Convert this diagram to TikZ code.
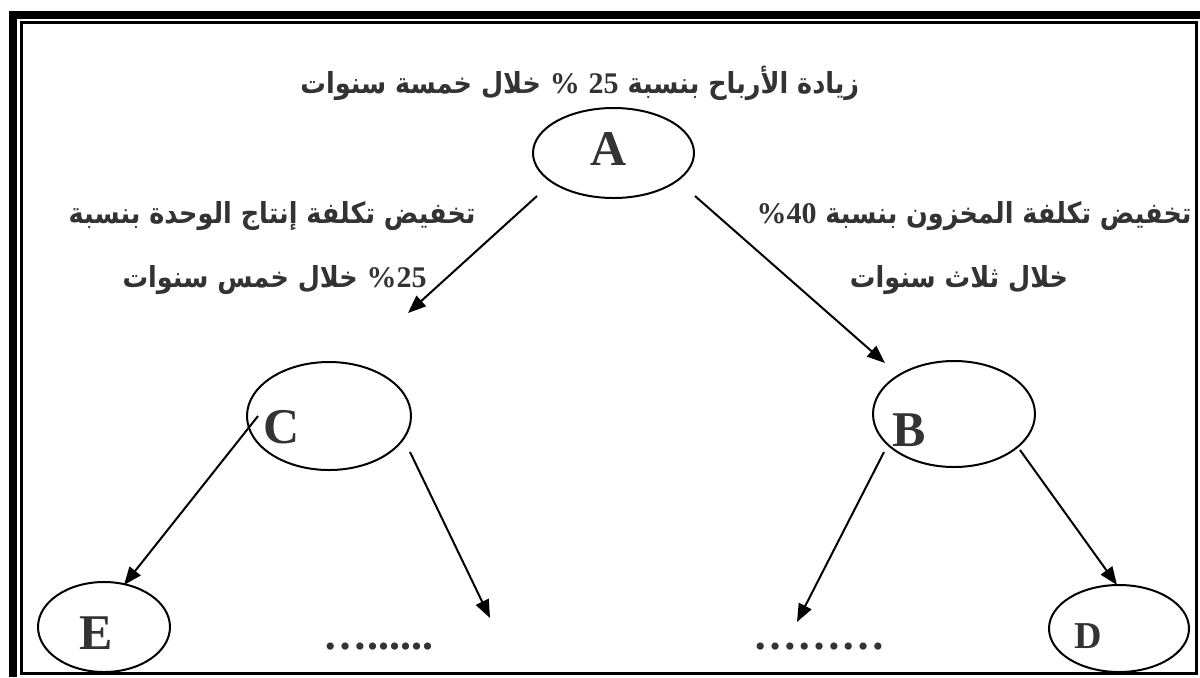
\documentclass[tikz,border=0pt]{standalone}
\usepackage{fontspec}
\setmainfont{Liberation Serif}
\newfontfamily\arabicfont[Script=Arabic, FakeStretch=0.88]{DejaVu Sans}
\TeXXeTstate=1
\usetikzlibrary{arrows.meta,shapes.geometric}
\definecolor{txt}{HTML}{333333}
\newcommand\dg[1]{\beginL{\rmfamily\bfseries\fontsize{15}{16}\selectfont #1}\endL}
\begin{document}
\begin{tikzpicture}[x=0.5pt,y=-0.5pt,
  ell/.style={draw=black, line width=1pt, ellipse, inner sep=0pt},
  lett/.style={text=txt, font=\fontsize{25}{25}\selectfont\bfseries, inner sep=0pt},
  arab/.style={text=txt, font=\arabicfont\fontsize{14.5}{16}\selectfont\bfseries, inner sep=0pt},
  arr/.style={line width=1pt, -{Triangle[length=9pt,width=7pt]}},
  dotrow/.style={text=txt, font=\fontsize{22}{22}\selectfont\bfseries, inner sep=0pt}]
\useasboundingbox (0,0) rectangle (1200,677);
% frame
\draw[line width=4pt] (13,677) -- (13,14.5) -- (1200,14.5);
\draw[line width=1.5pt] (21.5,22.5) rectangle (1196.5,673.5);
% ellipses
\node[ell, minimum width=80.5pt, minimum height=45pt] (A) at (613.5,153) {};
\node[ell, minimum width=82pt, minimum height=54pt] (C) at (329,416) {};
\node[ell, minimum width=81pt, minimum height=53pt] (B) at (954,414) {};
\node[ell, minimum width=66pt, minimum height=45pt] (E) at (104,627) {};
\node[ell, minimum width=70pt, minimum height=43.5pt] (D) at (1119,628.5) {};
% letters
\node[lett] (lA) at (609,149) {A};
\node[lett] (lC) at (282,427) {C};
\node[lett] (lB) at (909,430) {B};
\node[lett] (lE) at (96,633) {E};
\node[lett, font=\fontsize{19}{19}\selectfont\bfseries] (lD) at (1088,636) {D};
% texts
\node[arab, anchor=base west] (t0) at (300,93) {\beginR زيادة الأرباح بنسبة \dg{25} \dg{\%} خلال خمسة سنوات\endR};
\node[arab, anchor=base east] (t1) at (476,223) {\beginR تخفيض تكلفة إنتاج الوحدة بنسبة\endR};
\node[arab, anchor=base east] (t2) at (427,287) {\beginR\dg{\%25} خلال خمس سنوات\endR};
\node[arab, anchor=base east] (t3) at (1192,223) {\beginR تخفيض تكلفة المخزون بنسبة \dg{\%40}\endR};
\node[arab, anchor=base] (t4) at (959,287) {\beginR خلال ثلاث سنوات\endR};
% dots
\node[dotrow, anchor=base west] (d1) at (323,649) {\char"2026......};
\node[dotrow, anchor=base west] (d2) at (753,649) {\char"2026\char"2026\char"2026};
% arrows
\coordinate (a1s) at (537,196); \coordinate (a1e) at (408,313);
\coordinate (a2s) at (695,196); \coordinate (a2e) at (885,363);
\coordinate (a3s) at (258,416); \coordinate (a3e) at (124,585);
\coordinate (a4s) at (410,452); \coordinate (a4e) at (490,618);
\coordinate (a5s) at (884,452); \coordinate (a5e) at (797,622);
\coordinate (a6s) at (1020,450); \coordinate (a6e) at (1117,585);
\draw[arr] (a1s) -- (a1e);
\draw[arr] (a2s) -- (a2e);
\draw[arr] (a3s) -- (a3e);
\draw[arr] (a4s) -- (a4e);
\draw[arr] (a5s) -- (a5e);
\draw[arr] (a6s) -- (a6e);
\end{tikzpicture}
\end{document}
